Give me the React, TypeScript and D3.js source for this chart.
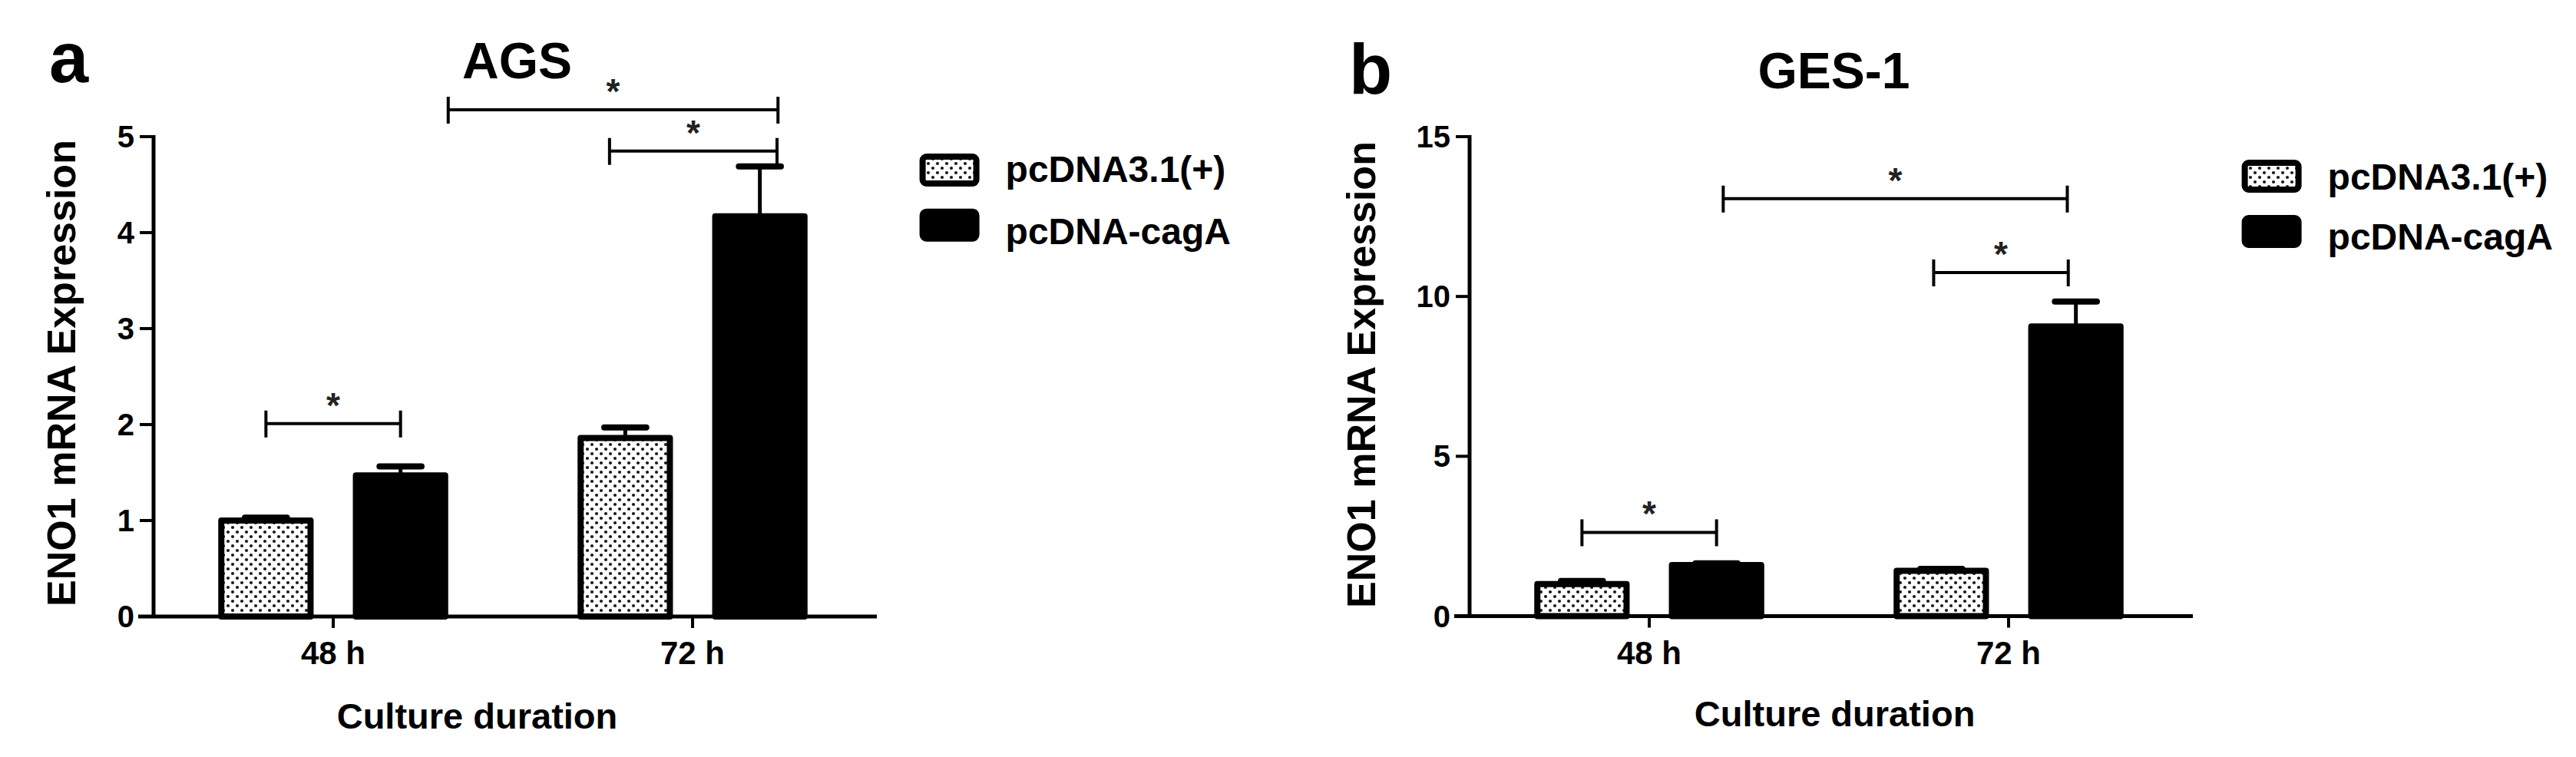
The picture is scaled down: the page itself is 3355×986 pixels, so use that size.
import React from "react";
import * as d3 from "d3";

const groups = ["48 h", "72 h"];
const series = ["pcDNA3.1(+)", "pcDNA-cagA"];

// Panel a: AGS
const agsControl = [1.0, 1.86];
const agsControlErr = [0.03, 0.11];
const agsCagA = [1.47, 4.17];
const agsCagAErr = [0.095, 0.52];
const agsTicks = [0, 1, 2, 3, 4, 5];
const agsMax = 5;

// Panel b: GES-1
const gesControl = [1.0, 1.42];
const gesControlErr = [0.1, 0.06];
const gesCagA = [1.6, 9.06];
const gesCagAErr = [0.05, 0.78];
const gesTicks = [0, 5, 10, 15];
const gesMax = 15;

// significance brackets: [groupIndex, seriesIndex, offset in bar widths], level in data units
const agsBrackets = [
  { from: [0, 0, 0], to: [0, 1, 0], level: 2.01 },
  { from: [0, 1, 0.5], to: [1, 1, 0.19], level: 5.28 },
  { from: [1, 0, -0.165], to: [1, 1, 0.18], level: 4.85 },
];
const gesBrackets = [
  { from: [0, 0, 0], to: [0, 1, 0], level: 2.62 },
  { from: [0, 1, 0.07], to: [1, 1, -0.09], level: 13.06 },
  { from: [1, 0, -0.08], to: [1, 1, -0.08], level: 10.75 },
];

const FONT = "'Liberation Sans', Arial, Helvetica, sans-serif";

type PanelProps = {
  id: string;
  letter: string;
  letterX: number;
  letterY: number;
  title: string;
  titleX: number;
  titleY: number;
  originX: number;
  y0: number;
  yTop: number;
  max: number;
  ticks: number[];
  control: number[];
  controlErr: number[];
  cag: number[];
  cagErr: number[];
  brackets: { from: number[]; to: number[]; level: number }[];
  yLabelX: number;
  yLabelY: number;
  xTitleX: number;
  xTitleY: number;
  legendX: number;
  legendY1: number;
  legendY2: number;
  legendTextY1: number;
  legendTextY2: number;
};

function Panel(p: PanelProps) {
  const axisLen = 942;
  const x0 = d3
    .scaleBand<string>()
    .domain(groups)
    .range([p.originX, p.originX + 936])
    .paddingInner(0.36)
    .paddingOuter(0.18);
  const x1 = d3
    .scaleBand<string>()
    .domain(series)
    .range([0, x0.bandwidth()])
    .paddingInner(0.2914)
    .paddingOuter(0);
  const y = d3.scaleLinear().domain([0, p.max]).range([p.y0, p.yTop]);
  const bw = x1.bandwidth();
  const sw = 8;
  const vals = [p.control, p.cag];
  const errs = [p.controlErr, p.cagErr];
  const fills = [`url(#dots-${p.id})`, "#000"];
  const barCenter = (g: number, s: number, off: number) =>
    (x0(groups[g]) as number) + (x1(series[s]) as number) + bw / 2 + off * bw;

  return (
    <g>
      <defs>
        <pattern id={`dots-${p.id}`} width={12} height={12} patternUnits="userSpaceOnUse">
          <rect width={12} height={12} fill="#fff" />
          <circle cx={3} cy={3} r={2.1} fill="#1a1a1a" />
          <circle cx={9} cy={9} r={2.1} fill="#1a1a1a" />
        </pattern>
      </defs>
      <text x={p.letterX} y={p.letterY} fontFamily={FONT} fontWeight="bold" fontSize={92}>
        {p.letter}
      </text>
      <text x={p.titleX} y={p.titleY} textAnchor="middle" fontFamily={FONT} fontWeight="bold" fontSize={66}>
        {p.title}
      </text>
      {/* bars */}
      {groups.map((g, gi) =>
        series.map((s, si) => {
          const v = vals[si][gi];
          const bx = (x0(g) as number) + (x1(s) as number);
          return (
            <rect
              key={`${g}-${s}`}
              x={bx + sw / 2}
              y={y(v)}
              width={bw - sw}
              height={y(0) - y(v)}
              fill={fills[si]}
              stroke="#000"
              strokeWidth={sw}
              strokeLinejoin="round"
            />
          );
        })
      )}
      {/* error bars */}
      {groups.map((g, gi) =>
        series.map((s, si) => {
          const v = vals[si][gi];
          const e = errs[si][gi];
          const cx = barCenter(gi, si, 0);
          return (
            <g key={`e-${g}-${s}`}>
              <line x1={cx} x2={cx} y1={y(v)} y2={y(v + e)} stroke="#000" strokeWidth={5} />
              <line
                x1={cx - bw * 0.22}
                x2={cx + bw * 0.22}
                y1={y(v + e)}
                y2={y(v + e)}
                stroke="#000"
                strokeWidth={8}
                strokeLinecap="round"
              />
            </g>
          );
        })
      )}
      {/* y axis */}
      <line x1={p.originX} x2={p.originX} y1={y(0)} y2={y(p.max) - 2} stroke="#000" strokeWidth={5} />
      {p.ticks.map((t) => (
        <g key={`yt-${t}`}>
          <line x1={p.originX - 18} x2={p.originX} y1={y(t)} y2={y(t)} stroke="#000" strokeWidth={4} />
          <text
            x={p.originX - 25}
            y={y(t) + 14}
            textAnchor="end"
            fontFamily={FONT}
            fontWeight="bold"
            fontSize={40}
          >
            {t}
          </text>
        </g>
      ))}
      {/* x axis */}
      <line x1={p.originX - 20} x2={p.originX + axisLen} y1={y(0)} y2={y(0)} stroke="#000" strokeWidth={5} />
      {groups.map((g) => {
        const cx = (x0(g) as number) + x0.bandwidth() / 2;
        return (
          <g key={`xt-${g}`}>
            <line x1={cx} x2={cx} y1={y(0)} y2={y(0) + 15} stroke="#000" strokeWidth={4} />
            <text x={cx} y={865} textAnchor="middle" fontFamily={FONT} fontWeight="bold" fontSize={42}>
              {g}
            </text>
          </g>
        );
      })}
      <text
        x={p.xTitleX}
        y={p.xTitleY}
        textAnchor="middle"
        fontFamily={FONT}
        fontWeight="bold"
        fontSize={47}
      >
        Culture duration
      </text>
      <text
        transform={`translate(${p.yLabelX},${p.yLabelY}) rotate(-90)`}
        textAnchor="middle"
        fontFamily={FONT}
        fontWeight="bold"
        fontSize={52}
      >
        ENO1 mRNA Expression
      </text>
      {/* brackets */}
      {p.brackets.map((b, i) => {
        const xa = barCenter(b.from[0], b.from[1], b.from[2]);
        const xb = barCenter(b.to[0], b.to[1], b.to[2]);
        const yl = y(b.level);
        return (
          <g key={`br-${i}`}>
            <line x1={xa} x2={xb} y1={yl} y2={yl} stroke="#000" strokeWidth={4} />
            <line x1={xa} x2={xa} y1={yl - 17} y2={yl + 18} stroke="#000" strokeWidth={4} />
            <line x1={xb} x2={xb} y1={yl - 17} y2={yl + 18} stroke="#000" strokeWidth={4} />
            <text
              x={(xa + xb) / 2}
              y={yl - 8}
              textAnchor="middle"
              fontFamily={FONT}
              fontWeight="bold"
              fontSize={46}
              fill="#222"
            >
              *
            </text>
          </g>
        );
      })}
      {/* legend */}
      {series.map((s, si) => {
        const ty = si === 0 ? p.legendY1 : p.legendY2;
        const ly = si === 0 ? p.legendTextY1 : p.legendTextY2;
        return (
          <g key={`lg-${s}`}>
            <rect
              x={p.legendX + 4}
              y={ty + 4}
              width={70}
              height={35}
              rx={5}
              fill={fills[si]}
              stroke="#000"
              strokeWidth={8}
            />
            <text x={p.legendX + 112} y={ly} fontFamily={FONT} fontWeight="bold" fontSize={48}>
              {s}
            </text>
          </g>
        );
      })}
    </g>
  );
}

export default function App() {
  return (
    <svg
      width={3355}
      height={986}
      viewBox="0 0 3355 986"
      style={{ position: "absolute", left: 0, top: 0, background: "#fff" }}
    >
      <rect width={3355} height={986} fill="#fff" />
      <Panel
        id="a"
        letter="a"
        letterX={64}
        letterY={107}
        title="AGS"
        titleX={673.5}
        titleY={102}
        originX={200}
        y0={803}
        yTop={178}
        max={agsMax}
        ticks={agsTicks}
        control={agsControl}
        controlErr={agsControlErr}
        cag={agsCagA}
        cagErr={agsCagAErr}
        brackets={agsBrackets}
        yLabelX={98}
        yLabelY={486}
        xTitleX={621.5}
        xTitleY={949}
        legendX={1197.6}
        legendY1={200}
        legendY2={271.7}
        legendTextY1={236.7}
        legendTextY2={318}
      />
      <Panel
        id="b"
        letter="b"
        letterX={1757}
        letterY={122}
        title="GES-1"
        titleX={2388.5}
        titleY={115}
        originX={1914}
        y0={802.5}
        yTop={178}
        max={gesMax}
        ticks={gesTicks}
        control={gesControl}
        controlErr={gesControlErr}
        cag={gesCagA}
        cagErr={gesCagAErr}
        brackets={gesBrackets}
        yLabelX={1791}
        yLabelY={488}
        xTitleX={2389.6}
        xTitleY={945.7}
        legendX={2919.6}
        legendY1={208}
        legendY2={280}
        legendTextY1={246.7}
        legendTextY2={325}
      />
    </svg>
  );
}
